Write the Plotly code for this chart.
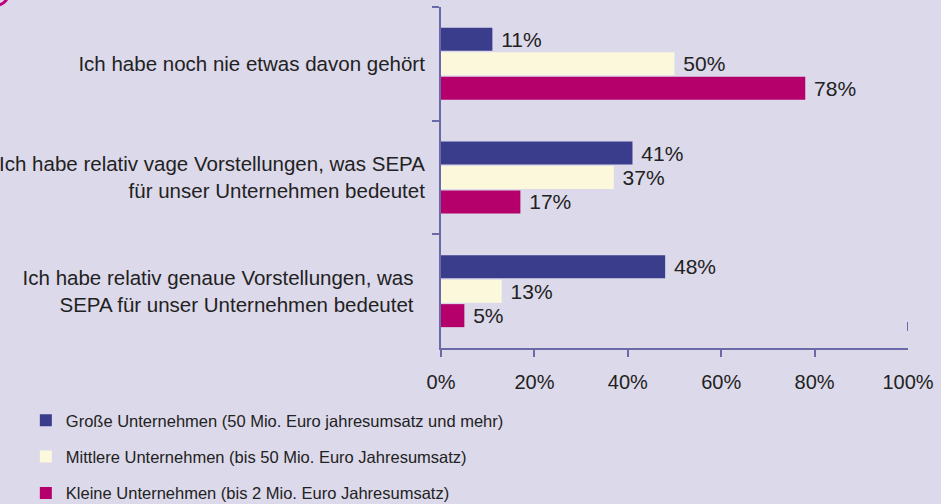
import plotly.graph_objects as go

categories = [
    "Ich habe noch nie etwas davon gehört",
    "Ich habe relativ vage Vorstellungen, was SEPA<br>für unser Unternehmen bedeutet",
    "Ich habe relativ genaue Vorstellungen, was\u00a0\u00a0<br>SEPA für unser Unternehmen bedeutet\u00a0\u00a0",
]
series_names = [
    "Große Unternehmen (50 Mio. Euro jahresumsatz und mehr)",
    "Mittlere Unternehmen (bis 50 Mio. Euro Jahresumsatz)",
    "Kleine Unternehmen (bis 2 Mio. Euro Jahresumsatz)",
]
grosse = [11, 41, 48]
mittlere = [50, 37, 13]
kleine = [78, 17, 5]
x_ticks = [0, 20, 40, 60, 80, 100]
x_tick_labels = ["0%", "20%", "40%", "60%", "80%", "100%"]
minor_ticks = [0, 20, 40, 60, 80]

colors = ["#3a3c8c", "#fcf8dc", "#b5006b"]
bg = "#dcd9ea"
axis_col = "#6a6aa8"
txt = "#222222"
FONT = "Liberation Sans"

fig = go.Figure()
for i, (name, vals) in enumerate(zip(series_names, [grosse, mittlere, kleine])):
    fig.add_trace(go.Bar(
        y=categories, x=vals, name=name, orientation="h",
        marker=dict(color=colors[i], line=dict(width=0)),
        text=[f" {v}%" for v in vals], textposition="outside",
        textfont=dict(family=FONT, size=21, color=txt),
        constraintext="none", cliponaxis=False,
        legendgroup=f"g{i}", hoverinfo="skip",
    ))

# overlay axis for tick marks (no tick at 100%)
fig.add_trace(go.Scatter(x=[0], y=[categories[0]], xaxis="x2", mode="markers",
                         marker=dict(opacity=0), showlegend=False, hoverinfo="skip"))

fig.update_layout(
    width=941, height=504,
    paper_bgcolor=bg, plot_bgcolor=bg,
    margin=dict(l=441, r=33, t=7, b=156, autoexpand=False),
    barmode="group", bargap=0.354, bargroupgap=0.06,
    font=dict(family=FONT, size=19, color=txt),
    xaxis=dict(range=[0, 100], tickvals=x_ticks, ticktext=x_tick_labels,
               ticks="", showgrid=False, zeroline=False,
               showline=True, linecolor=axis_col, linewidth=2,
               tickfont=dict(family=FONT, size=20, color=txt),
               ticklabelstandoff=15, fixedrange=True, automargin=False),
    xaxis2=dict(range=[0, 100], overlaying="x", anchor="y", side="bottom",
                tickvals=minor_ticks, ticks="outside", ticklen=8, tickwidth=2,
                tickcolor=axis_col, showticklabels=False, showgrid=False,
                zeroline=False, showline=False),
    yaxis=dict(autorange="reversed", tickson="boundaries", ticks="outside",
               ticklen=7, tickwidth=2, tickcolor=axis_col,
               showline=True, linecolor=axis_col, linewidth=2, showgrid=False,
               ticklabelstandoff=10, automargin=False,
               tickfont=dict(family=FONT, size=20.5, color=txt)),
    legend=dict(x=-0.889, y=-0.161, xanchor="left", yanchor="top",
                orientation="v", traceorder="grouped", tracegroupgap=12,
                bgcolor="rgba(0,0,0,0)",
                font=dict(family=FONT, size=16.5, color=txt)),
    showlegend=True,
    shapes=[
        dict(type="line", xref="x", yref="paper", x0=100, x1=100,
             y0=(348 - 322) / 341, y1=(348 - 331) / 341,
             line=dict(color=axis_col, width=2)),
        dict(type="circle", xref="paper", yref="paper",
             x0=(-14 - 441) / 467, x1=(8 - 441) / 467,
             y0=(348 - 5) / 341, y1=(348 + 17) / 341,
             line=dict(color="#c0007a", width=3)),
    ],
)

fig.write_html("out.html", config={"displayModeBar": False},
               post_script="document.body.style.margin='0';document.body.style.background='%s';" % bg)
